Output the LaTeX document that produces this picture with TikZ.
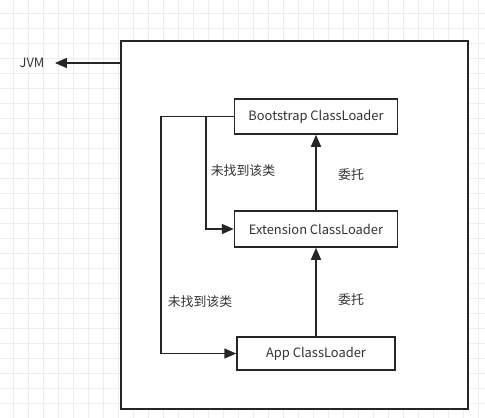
\documentclass[tikz,border=0pt]{standalone}
\usepackage{fontspec}
\setmainfont{Noto Sans CJK SC}
\usetikzlibrary{positioning,arrows.meta}

\begin{document}
\begin{tikzpicture}[x=1pt,y=-1pt,
      every node/.style={align=center,font=\fontsize{12.9}{14}\selectfont,text=black!80},
      gridline/.style={draw=black!7,line width=0.6pt},
      loader/.style={draw=black!85,line width=1.5pt,minimum width=163pt,minimum height=35pt,inner sep=0pt},
      link/.style={draw=black!85,line width=1.5pt,-{Triangle[length=12pt,width=10pt]}}]
    \useasboundingbox (0,0) rectangle (485,418);
    % grid paper
    \foreach \x in {13,28,...,485}
      \draw[gridline] (\x,0) -- (\x,418);
    \foreach \y in {13,28,...,418}
      \draw[gridline] (0,\y) -- (485,\y);
    \node[draw=black!85,fill=white,line width=1.5pt,minimum width=347pt,minimum height=368pt,inner sep=0pt] (frame) at (294.5,225) {};
    \node (jvm) at (32,63) {JVM};
    \draw[link,shorten >=7pt] (frame.west |- jvm) -- (jvm);
    \node[loader] (boot) at (316,116.5) {Bootstrap ClassLoader};
    \node[loader,minimum height=36pt] (ext) at (316,229) {Extension ClassLoader};
    \node[loader,minimum width=158pt,minimum height=33pt] (app) at (316,353.5) {App ClassLoader};
    \draw[link] (ext.north) -- (boot.south);
    \draw[link] (app.north) -- (ext.south);
    \node at (351,175) {委托};
    \node at (351,300) {委托};
    \coordinate (inner) at (206,116.5);
    \coordinate (outer) at (161,116.5);
    \draw[link] (boot.west) -- (inner) |- (ext.west);
    \draw[link] (inner) -- (outer) |- (app.west);
    \node at (243,171) {未找到该类};
    \node at (200,302) {未找到该类};
\end{tikzpicture}
\end{document}
